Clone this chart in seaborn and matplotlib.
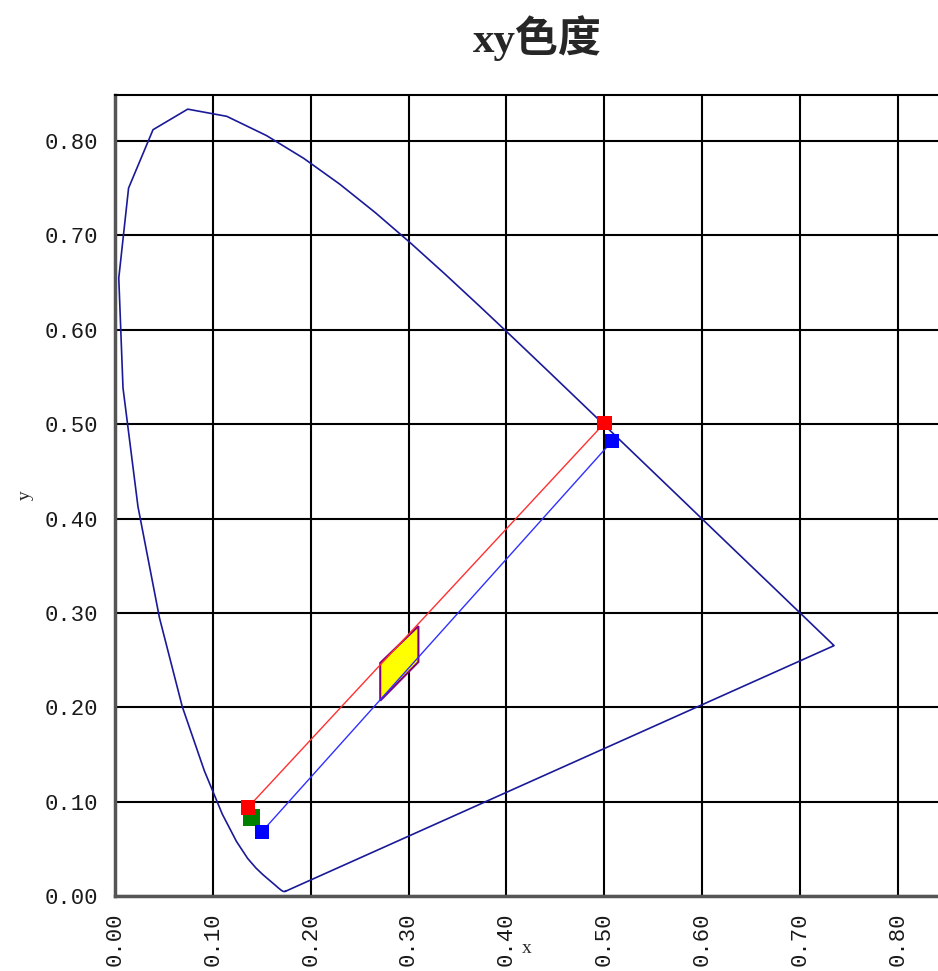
import matplotlib
matplotlib.use("Agg")
import matplotlib.pyplot as plt
import seaborn as sns
import pandas as pd

# CIE 1931 2-degree spectral locus, 380-700 nm in 5 nm steps,
# closed by the purple line back to 380 nm
locus_x = [0.17411, 0.17401, 0.17380, 0.17356, 0.17334, 0.17302, 0.17258, 0.17209,
           0.17141, 0.17030, 0.16888, 0.16690, 0.16441, 0.16110, 0.15664, 0.15099,
           0.14396, 0.13550, 0.12412, 0.10959, 0.09129, 0.06871, 0.04539, 0.02346,
           0.00817, 0.00386, 0.01387, 0.03885, 0.07430, 0.11416, 0.15472, 0.19288,
           0.22962, 0.26578, 0.30160, 0.33736, 0.37310, 0.40874, 0.44406, 0.47877,
           0.51249, 0.54479, 0.57515, 0.60293, 0.62704, 0.64823, 0.66576, 0.68008,
           0.69150, 0.70061, 0.70792, 0.71403, 0.71903, 0.72303, 0.72599, 0.72827,
           0.72997, 0.73109, 0.73199, 0.73272, 0.73342, 0.73405, 0.73439, 0.73459,
           0.73469, 0.17411]
locus_y = [0.00496, 0.00498, 0.00492, 0.00492, 0.00480, 0.00478, 0.00480, 0.00483,
           0.00510, 0.00579, 0.00690, 0.00855, 0.01086, 0.01379, 0.01771, 0.02274,
           0.02970, 0.03988, 0.05780, 0.08684, 0.13270, 0.20072, 0.29498, 0.41270,
           0.53842, 0.65482, 0.75019, 0.81202, 0.83380, 0.82621, 0.80586, 0.78163,
           0.75433, 0.72432, 0.69231, 0.65885, 0.62445, 0.58961, 0.55471, 0.52020,
           0.48659, 0.45443, 0.42423, 0.39650, 0.37249, 0.35139, 0.33401, 0.31975,
           0.30834, 0.29930, 0.29203, 0.28593, 0.28093, 0.27695, 0.27401, 0.27173,
           0.27003, 0.26891, 0.26801, 0.26728, 0.26658, 0.26595, 0.26561, 0.26541,
           0.26531, 0.00496]

# Red and blue measurement lines (start, end)
red_x = [0.136, 0.500]
red_y = [0.094, 0.501]
blue_x = [0.150, 0.508]
blue_y = [0.068, 0.482]

# Green point
green_x = [0.139]
green_y = [0.083]

# Yellow tolerance quadrilateral
quad_x = [0.271, 0.310, 0.310, 0.271]
quad_y = [0.247, 0.286, 0.248, 0.207]

ticks = [0.0, 0.1, 0.2, 0.3, 0.4, 0.5, 0.6, 0.7, 0.8]
tick_labels = ["0.00", "0.10", "0.20", "0.30", "0.40", "0.50", "0.60", "0.70", "0.80"]

sns.set_theme(style="white")
plt.rcParams["font.family"] = ["Noto Sans CJK SC", "DejaVu Sans"]

fig = plt.figure(figsize=(9.38, 9.71), dpi=100)
ax = fig.add_axes([115 / 938, 75 / 971, (938 - 115) / 938, (896 - 95) / 971])

locus = pd.DataFrame({"x": locus_x, "y": locus_y})
sns.lineplot(data=locus, x="x", y="y", sort=False, estimator=None,
             color="#1a1a99", lw=1.2, ax=ax, zorder=3)

ax.fill(quad_x, quad_y, facecolor="#ffff00", edgecolor="#800080", lw=1.5, zorder=4)

sns.lineplot(x=red_x, y=red_y, sort=False, estimator=None, color="#ff3030", lw=1.0,
             ax=ax, zorder=5)
sns.lineplot(x=blue_x, y=blue_y, sort=False, estimator=None, color="#3030ff", lw=1.0,
             ax=ax, zorder=5)

sns.scatterplot(x=green_x, y=green_y, marker="s", s=150, color="#008000",
                edgecolor="none", ax=ax, zorder=6)
sns.scatterplot(x=red_x, y=red_y, marker="s", s=110, color="#ff0000",
                edgecolor="none", ax=ax, zorder=7)
sns.scatterplot(x=blue_x, y=blue_y, marker="s", s=110, color="#0000ff",
                edgecolor="none", ax=ax, zorder=7)

ax.set_xlim(0, 0.8409)
ax.set_ylim(0, 0.8488)
ax.set_xticks(ticks)
ax.set_yticks(ticks)
mono = {"family": "Liberation Mono", "size": 16}
ax.set_xticklabels(tick_labels, rotation=90, fontdict=mono)
ax.set_yticklabels(tick_labels, fontdict=mono)
ax.tick_params(axis="both", length=0, pad=12, colors="#1a1a1a")
ax.grid(True, color="black", lw=1.5)
ax.set_axisbelow(True)

for side in ["left", "bottom"]:
    ax.spines[side].set_color("#555555")
    ax.spines[side].set_linewidth(2.5)
ax.spines["top"].set_color("black")
ax.spines["top"].set_linewidth(1.5)
ax.spines["right"].set_visible(False)

ax.set_xlabel("x", fontsize=14, family="Liberation Serif")
ax.set_ylabel("y", fontsize=14, family="Liberation Serif", labelpad=8)
ax.xaxis.set_label_coords((527 - 115) / 823, -0.055)

fig.text(537 / 938, 1 - 38 / 971, "xy色度", ha="center", va="center",
         fontsize=31, fontweight="bold",
         family=["Liberation Serif", "Noto Sans CJK SC"])

fig.savefig("out.png", dpi=100, facecolor="white")
